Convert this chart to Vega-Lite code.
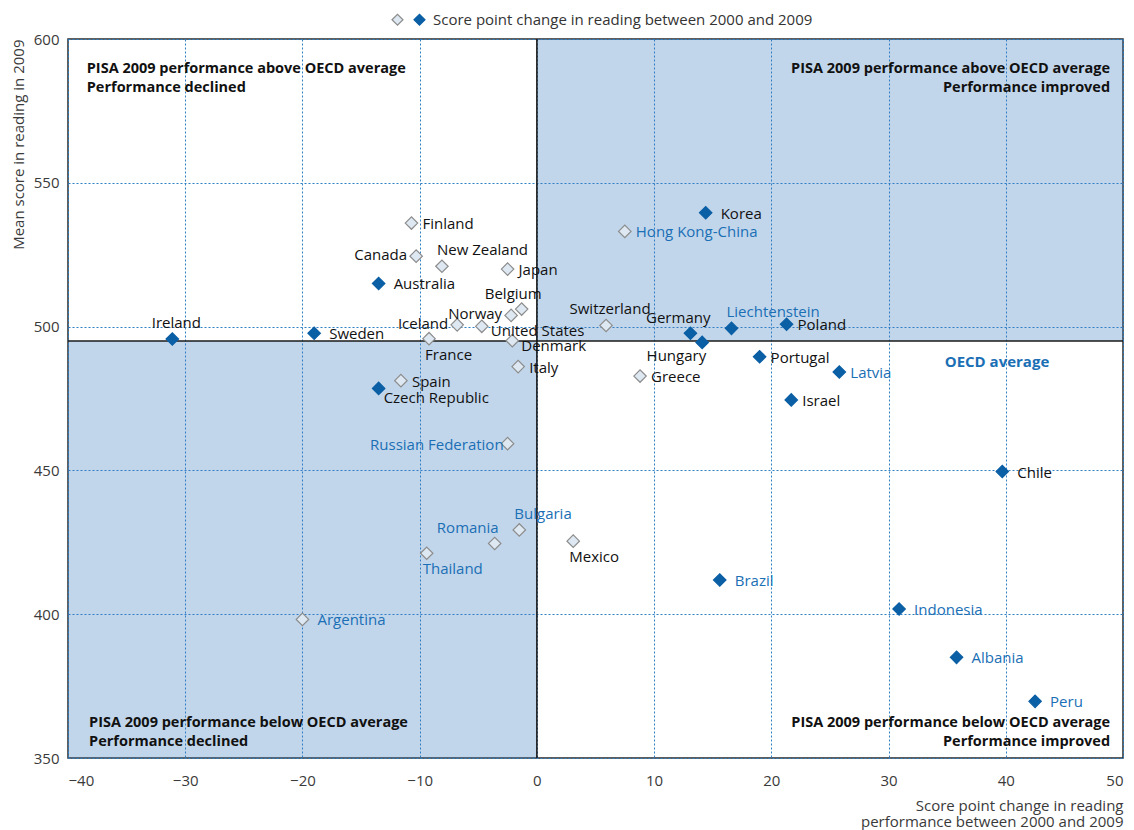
{
  "$schema": "https://vega.github.io/schema/vega-lite/v6.json",
  "width": 1055,
  "height": 719,
  "autosize": {"type": "none"},
  "padding": {"left": 68, "top": 39, "right": 11, "bottom": 72},
  "config": {
    "font": "Open Sans",
    "view": {"stroke": "#2a2a2a", "strokeWidth": 1.5},
    "text": {"fontSize": 15},
    "axis": {
      "grid": true, "gridColor": "#2f7fc4", "gridDash": [2, 2], "gridWidth": 1, "gridOpacity": 1,
      "domain": false, "ticks": false, "tickSize": 0,
      "labelFont": "Open Sans", "labelFontSize": 15, "labelColor": "#3a3a3a",
      "titleFont": "Open Sans", "titleFontSize": 15, "titleFontWeight": "normal", "titleColor": "#3a3a3a"
    }
  },
  "data": {"values": [
    {"country": "Ireland", "change": -31.1, "score": 495.7, "sig": "Significant", "group": "OECD"},
    {"country": "Sweden", "change": -19.0, "score": 497.7, "sig": "Significant", "group": "OECD"},
    {"country": "Australia", "change": -13.5, "score": 515.0, "sig": "Significant", "group": "OECD"},
    {"country": "Czech Republic", "change": -13.5, "score": 478.5, "sig": "Significant", "group": "OECD"},
    {"country": "Finland", "change": -10.7, "score": 536.0, "sig": "Not significant", "group": "OECD"},
    {"country": "Canada", "change": -10.3, "score": 524.5, "sig": "Not significant", "group": "OECD"},
    {"country": "New Zealand", "change": -8.1, "score": 521.0, "sig": "Not significant", "group": "OECD"},
    {"country": "Spain", "change": -11.6, "score": 481.2, "sig": "Not significant", "group": "OECD"},
    {"country": "Japan", "change": -2.5, "score": 520.0, "sig": "Not significant", "group": "OECD"},
    {"country": "Belgium", "change": -1.3, "score": 506.1, "sig": "Not significant", "group": "OECD"},
    {"country": "Norway", "change": -2.2, "score": 503.9, "sig": "Not significant", "group": "OECD"},
    {"country": "Iceland", "change": -6.8, "score": 500.6, "sig": "Not significant", "group": "OECD"},
    {"country": "United States", "change": -4.7, "score": 500.1, "sig": "Not significant", "group": "OECD"},
    {"country": "France", "change": -9.2, "score": 495.8, "sig": "Not significant", "group": "OECD"},
    {"country": "Denmark", "change": -2.1, "score": 495.1, "sig": "Not significant", "group": "OECD"},
    {"country": "Italy", "change": -1.6, "score": 486.1, "sig": "Not significant", "group": "OECD"},
    {"country": "Switzerland", "change": 5.9, "score": 500.4, "sig": "Not significant", "group": "OECD"},
    {"country": "Germany", "change": 13.1, "score": 497.7, "sig": "Significant", "group": "OECD"},
    {"country": "Hungary", "change": 14.1, "score": 494.5, "sig": "Significant", "group": "OECD"},
    {"country": "Liechtenstein", "change": 16.6, "score": 499.4, "sig": "Significant", "group": "Partner"},
    {"country": "Poland", "change": 21.3, "score": 500.8, "sig": "Significant", "group": "OECD"},
    {"country": "Korea", "change": 14.4, "score": 539.6, "sig": "Significant", "group": "OECD"},
    {"country": "Hong Kong-China", "change": 7.5, "score": 533.1, "sig": "Not significant", "group": "Partner"},
    {"country": "Portugal", "change": 19.0, "score": 489.5, "sig": "Significant", "group": "OECD"},
    {"country": "Greece", "change": 8.8, "score": 482.8, "sig": "Not significant", "group": "OECD"},
    {"country": "Latvia", "change": 25.8, "score": 484.2, "sig": "Significant", "group": "Partner"},
    {"country": "Israel", "change": 21.7, "score": 474.5, "sig": "Significant", "group": "OECD"},
    {"country": "Russian Federation", "change": -2.5, "score": 459.3, "sig": "Not significant", "group": "Partner"},
    {"country": "Bulgaria", "change": -1.5, "score": 429.3, "sig": "Not significant", "group": "Partner"},
    {"country": "Romania", "change": -3.6, "score": 424.6, "sig": "Not significant", "group": "Partner"},
    {"country": "Thailand", "change": -9.4, "score": 421.2, "sig": "Not significant", "group": "Partner"},
    {"country": "Argentina", "change": -20.0, "score": 398.2, "sig": "Not significant", "group": "Partner"},
    {"country": "Chile", "change": 39.7, "score": 449.6, "sig": "Significant", "group": "OECD"},
    {"country": "Mexico", "change": 3.1, "score": 425.4, "sig": "Not significant", "group": "OECD"},
    {"country": "Brazil", "change": 15.6, "score": 411.9, "sig": "Significant", "group": "Partner"},
    {"country": "Indonesia", "change": 30.9, "score": 401.8, "sig": "Significant", "group": "Partner"},
    {"country": "Albania", "change": 35.8, "score": 385.0, "sig": "Significant", "group": "Partner"},
    {"country": "Peru", "change": 42.5, "score": 369.7, "sig": "Significant", "group": "Partner"}
  ]},
  "layer": [
    {
      "data": {"values": [
        {"x1": 0, "x2": 50, "y1": 495, "y2": 600},
        {"x1": -40, "x2": 0, "y1": 350, "y2": 495}
      ]},
      "mark": {"type": "rect", "fill": "#3a7cc0", "opacity": 0.31},
      "encoding": {
        "x": {"field": "x1", "type": "quantitative",
              "scale": {"domain": [-40, 50], "nice": false, "zero": false},
              "axis": {"values": [-40, -30, -20, -10, 0, 10, 20, 30, 40, 50], "labelPadding": 15,
                       "title": ["Score point change in reading", "performance between 2000 and 2009"],
                       "titleAlign": "right", "titleAnchor": "end", "titleX": 1055, "titleY": 40,
                       "titleBaseline": "top", "titleLineHeight": 16}},
        "x2": {"field": "x2"},
        "y": {"field": "y1", "type": "quantitative",
              "scale": {"domain": [350, 600], "nice": false, "zero": false},
              "axis": {"values": [350, 400, 450, 500, 550, 600], "labelPadding": 9,
                       "title": "Mean score in reading in 2009",
                       "titleAngle": -90, "titleAlign": "right", "titleBaseline": "middle",
                       "titleX": -50, "titleY": 0}},
        "y2": {"field": "y2"}
      }
    },
    {
      "data": {"values": [{}]},
      "mark": {"type": "rule", "color": "#1a1a1a", "strokeWidth": 1.6},
      "encoding": {"y": {"datum": 495, "type": "quantitative"}}
    },
    {
      "data": {"values": [{}]},
      "mark": {"type": "rule", "color": "#1a1a1a", "strokeWidth": 1.6},
      "encoding": {"x": {"datum": 0, "type": "quantitative"}}
    },
    {
      "data": {"values": [{}]},
      "mark": {"type": "text", "align": "left", "baseline": "top", "fontWeight": "bold", "fontSize": 14.5, "lineHeight": 19, "color": "#111"},
      "encoding": {"x": {"datum": -38.4, "type": "quantitative"}, "y": {"datum": 592.0, "type": "quantitative"},
                   "text": {"value": ["PISA 2009 performance above OECD average", "Performance declined"]}}
    },
    {
      "data": {"values": [{}]},
      "mark": {"type": "text", "align": "right", "baseline": "top", "fontWeight": "bold", "fontSize": 14.5, "lineHeight": 19, "color": "#111"},
      "encoding": {"x": {"datum": 48.9, "type": "quantitative"}, "y": {"datum": 592.0, "type": "quantitative"},
                   "text": {"value": ["PISA 2009 performance above OECD average", "Performance improved"]}}
    },
    {
      "data": {"values": [{}]},
      "mark": {"type": "text", "align": "left", "baseline": "bottom", "fontWeight": "bold", "fontSize": 14.5, "lineHeight": 19, "color": "#111"},
      "encoding": {"x": {"datum": -38.2, "type": "quantitative"}, "y": {"datum": 359.8, "type": "quantitative"},
                   "text": {"value": ["PISA 2009 performance below OECD average", "Performance declined"]}}
    },
    {
      "data": {"values": [{}]},
      "mark": {"type": "text", "align": "right", "baseline": "bottom", "fontWeight": "bold", "fontSize": 14.5, "lineHeight": 19, "color": "#111"},
      "encoding": {"x": {"datum": 48.9, "type": "quantitative"}, "y": {"datum": 359.8, "type": "quantitative"},
                   "text": {"value": ["PISA 2009 performance below OECD average", "Performance improved"]}}
    },
    {
      "data": {"values": [{}]},
      "mark": {"type": "text", "align": "center", "baseline": "middle", "fontWeight": "bold", "fontSize": 15, "color": "#1a6fb5"},
      "encoding": {"x": {"datum": 39.25, "type": "quantitative"}, "y": {"datum": 487.7, "type": "quantitative"},
                   "text": {"value": "OECD average"}}
    },
    {
      "mark": {"type": "point", "shape": "diamond", "filled": true, "size": 155, "strokeWidth": 1.2, "opacity": 1},
      "encoding": {
        "x": {"field": "change", "type": "quantitative"},
        "y": {"field": "score", "type": "quantitative"},
        "fill": {"field": "sig", "type": "nominal",
                 "scale": {"domain": ["Not significant", "Significant"], "range": ["#dde8f2", "#0b5fa5"]},
                 "legend": {"orient": "none", "legendX": 322, "legendY": -27, "direction": "horizontal", "title": null,
                            "symbolType": "diamond", "symbolSize": 120, "symbolStrokeWidth": 1.2,
                            "labelFont": "Open Sans", "labelFontSize": 15, "labelColor": "#333", "labelOffset": 6,
                            "columnPadding": 0, "labelLimit": 600,
                            "labelExpr": "datum.value == 'Significant' ? 'Score point change in reading between 2000 and 2009' : ''"}},
        "stroke": {"field": "sig", "type": "nominal",
                   "scale": {"domain": ["Not significant", "Significant"], "range": ["#8c8c8c", "#0b5fa5"]},
                   "legend": {"orient": "none", "legendX": 322, "legendY": -27, "direction": "horizontal", "title": null,
                              "symbolType": "diamond", "symbolSize": 120, "symbolStrokeWidth": 1.2,
                              "labelFont": "Open Sans", "labelFontSize": 15, "labelColor": "#333", "labelOffset": 6,
                              "columnPadding": 0, "labelLimit": 600,
                              "labelExpr": "datum.value == 'Significant' ? 'Score point change in reading between 2000 and 2009' : ''"}}
      }
    },
    {
      "transform": [{"filter": {"field": "country", "oneOf": ["Sweden", "Australia", "Korea", "Argentina", "Chile", "Brazil", "Indonesia", "Albania", "Peru"]}}],
      "mark": {"type": "text", "align": "left", "baseline": "middle", "dx": 15, "dy": 1},
      "encoding": {"x": {"field": "change", "type": "quantitative"}, "y": {"field": "score", "type": "quantitative"},
                   "text": {"field": "country"},
                   "color": {"field": "group", "type": "nominal", "scale": {"domain": ["OECD", "Partner"], "range": ["#111111", "#1a6fb5"]}, "legend": null}}
    },
    {
      "transform": [{"filter": {"field": "country", "oneOf": ["Spain", "Finland", "Japan", "Italy", "Poland", "Hong Kong-China", "Portugal", "Greece", "Latvia", "Israel"]}}],
      "mark": {"type": "text", "align": "left", "baseline": "middle", "dx": 11, "dy": 1},
      "encoding": {"x": {"field": "change", "type": "quantitative"}, "y": {"field": "score", "type": "quantitative"},
                   "text": {"field": "country"},
                   "color": {"field": "group", "type": "nominal", "scale": {"domain": ["OECD", "Partner"], "range": ["#111111", "#1a6fb5"]}, "legend": null}}
    },
    {
      "transform": [{"filter": {"field": "country", "oneOf": ["United States", "Denmark"]}}],
      "mark": {"type": "text", "align": "left", "baseline": "middle", "dx": 9, "dy": 5},
      "encoding": {"x": {"field": "change", "type": "quantitative"}, "y": {"field": "score", "type": "quantitative"},
                   "text": {"field": "country"},
                   "color": {"field": "group", "type": "nominal", "scale": {"domain": ["OECD", "Partner"], "range": ["#111111", "#1a6fb5"]}, "legend": null}}
    },
    {
      "transform": [{"filter": {"field": "country", "oneOf": ["Canada", "Norway", "Iceland"]}}],
      "mark": {"type": "text", "align": "right", "baseline": "middle", "dx": -9, "dy": -1},
      "encoding": {"x": {"field": "change", "type": "quantitative"}, "y": {"field": "score", "type": "quantitative"},
                   "text": {"field": "country"},
                   "color": {"field": "group", "type": "nominal", "scale": {"domain": ["OECD", "Partner"], "range": ["#111111", "#1a6fb5"]}, "legend": null}}
    },
    {
      "transform": [{"filter": {"field": "country", "oneOf": ["Russian Federation"]}}],
      "mark": {"type": "text", "align": "right", "baseline": "middle", "dx": -4, "dy": 1},
      "encoding": {"x": {"field": "change", "type": "quantitative"}, "y": {"field": "score", "type": "quantitative"},
                   "text": {"field": "country"},
                   "color": {"field": "group", "type": "nominal", "scale": {"domain": ["OECD", "Partner"], "range": ["#111111", "#1a6fb5"]}, "legend": null}}
    },
    {
      "transform": [{"filter": {"field": "country", "oneOf": ["New Zealand", "Liechtenstein", "Bulgaria"]}}],
      "mark": {"type": "text", "align": "left", "baseline": "middle", "dx": -5, "dy": -16},
      "encoding": {"x": {"field": "change", "type": "quantitative"}, "y": {"field": "score", "type": "quantitative"},
                   "text": {"field": "country"},
                   "color": {"field": "group", "type": "nominal", "scale": {"domain": ["OECD", "Partner"], "range": ["#111111", "#1a6fb5"]}, "legend": null}}
    },
    {
      "transform": [{"filter": {"field": "country", "oneOf": ["Ireland", "Switzerland"]}}],
      "mark": {"type": "text", "align": "center", "baseline": "middle", "dx": 4, "dy": -16},
      "encoding": {"x": {"field": "change", "type": "quantitative"}, "y": {"field": "score", "type": "quantitative"},
                   "text": {"field": "country"},
                   "color": {"field": "group", "type": "nominal", "scale": {"domain": ["OECD", "Partner"], "range": ["#111111", "#1a6fb5"]}, "legend": null}}
    },
    {
      "transform": [{"filter": {"field": "country", "oneOf": ["Belgium", "Germany"]}}],
      "mark": {"type": "text", "align": "right", "baseline": "middle", "dx": 20, "dy": -15},
      "encoding": {"x": {"field": "change", "type": "quantitative"}, "y": {"field": "score", "type": "quantitative"},
                   "text": {"field": "country"},
                   "color": {"field": "group", "type": "nominal", "scale": {"domain": ["OECD", "Partner"], "range": ["#111111", "#1a6fb5"]}, "legend": null}}
    },
    {
      "transform": [{"filter": {"field": "country", "oneOf": ["Romania"]}}],
      "mark": {"type": "text", "align": "right", "baseline": "middle", "dx": 4, "dy": -15},
      "encoding": {"x": {"field": "change", "type": "quantitative"}, "y": {"field": "score", "type": "quantitative"},
                   "text": {"field": "country"},
                   "color": {"field": "group", "type": "nominal", "scale": {"domain": ["OECD", "Partner"], "range": ["#111111", "#1a6fb5"]}, "legend": null}}
    },
    {
      "transform": [{"filter": {"field": "country", "oneOf": ["France", "Thailand", "Mexico"]}}],
      "mark": {"type": "text", "align": "left", "baseline": "middle", "dx": -4, "dy": 16},
      "encoding": {"x": {"field": "change", "type": "quantitative"}, "y": {"field": "score", "type": "quantitative"},
                   "text": {"field": "country"},
                   "color": {"field": "group", "type": "nominal", "scale": {"domain": ["OECD", "Partner"], "range": ["#111111", "#1a6fb5"]}, "legend": null}}
    },
    {
      "transform": [{"filter": {"field": "country", "oneOf": ["Czech Republic"]}}],
      "mark": {"type": "text", "align": "left", "baseline": "middle", "dx": 5, "dy": 10},
      "encoding": {"x": {"field": "change", "type": "quantitative"}, "y": {"field": "score", "type": "quantitative"},
                   "text": {"field": "country"},
                   "color": {"field": "group", "type": "nominal", "scale": {"domain": ["OECD", "Partner"], "range": ["#111111", "#1a6fb5"]}, "legend": null}}
    },
    {
      "transform": [{"filter": {"field": "country", "oneOf": ["Hungary"]}}],
      "mark": {"type": "text", "align": "right", "baseline": "middle", "dx": 4, "dy": 14},
      "encoding": {"x": {"field": "change", "type": "quantitative"}, "y": {"field": "score", "type": "quantitative"},
                   "text": {"field": "country"},
                   "color": {"field": "group", "type": "nominal", "scale": {"domain": ["OECD", "Partner"], "range": ["#111111", "#1a6fb5"]}, "legend": null}}
    }
  ]
}
